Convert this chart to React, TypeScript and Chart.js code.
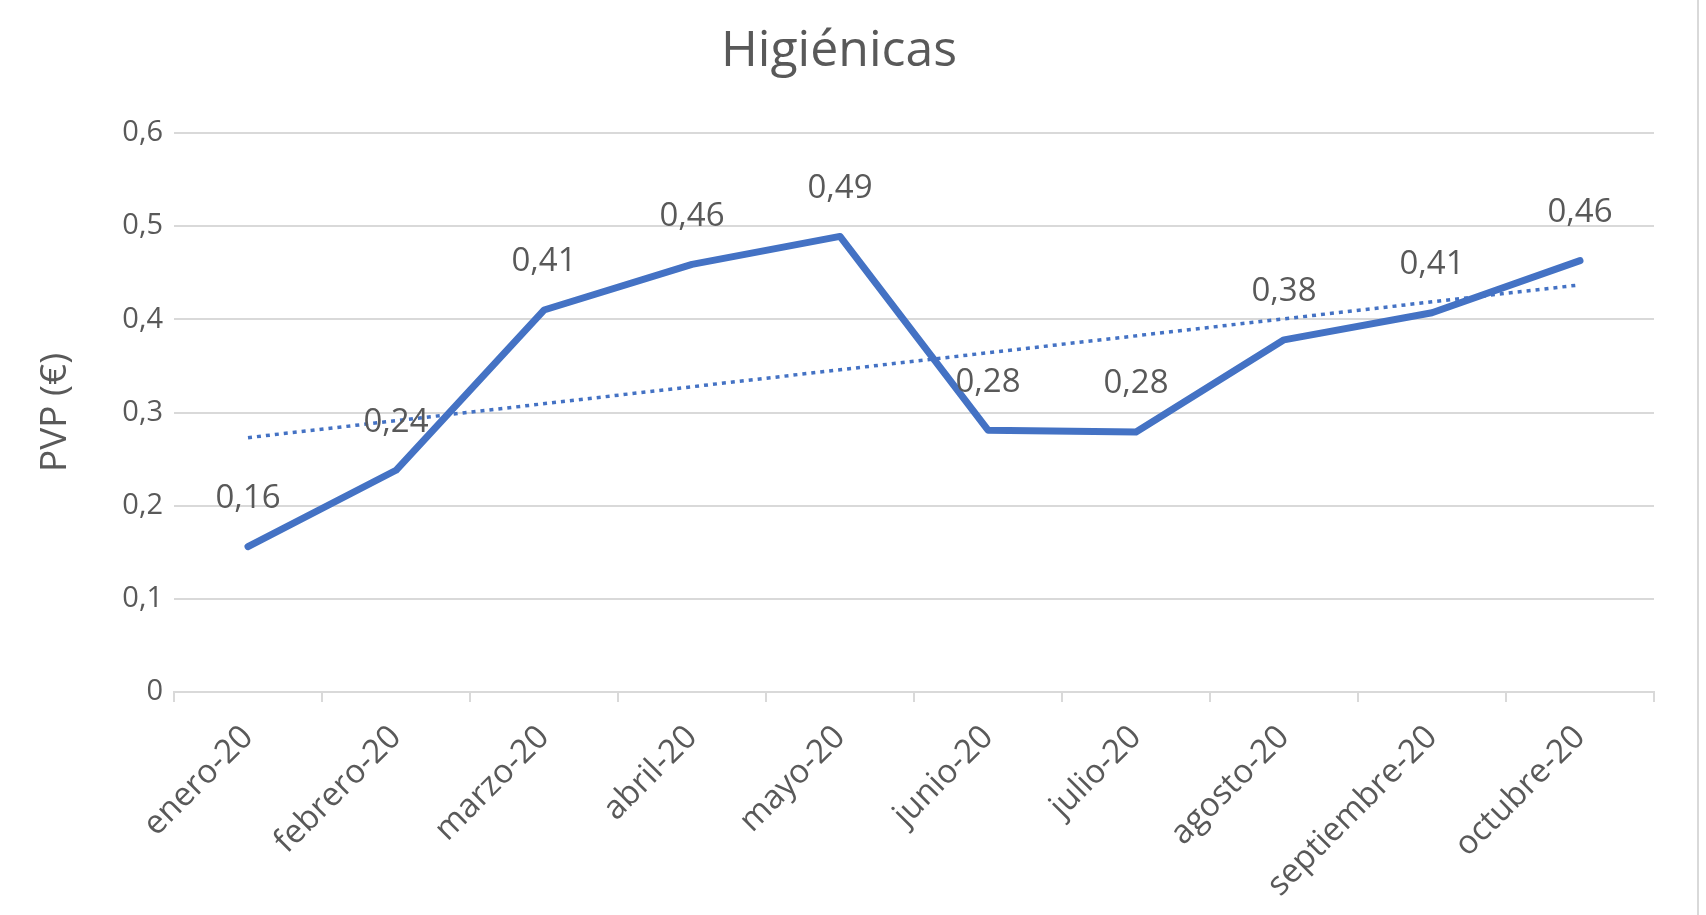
import React, { useEffect, useRef } from "react";
import { Chart, registerables } from "chart.js";

Chart.register(...registerables);

const chartTitle = "Higiénicas";
const yAxisTitle = "PVP (€)";
const categories = [
  "enero-20",
  "febrero-20",
  "marzo-20",
  "abril-20",
  "mayo-20",
  "junio-20",
  "julio-20",
  "agosto-20",
  "septiembre-20",
  "octubre-20",
];
const pvpValues = [0.156, 0.238, 0.41, 0.459, 0.489, 0.281, 0.279, 0.378, 0.407, 0.463];
// Linear trendline (start and end points)
const trendValues = [0.273, null, null, null, null, null, null, null, null, 0.437];
const yMin = 0;
const yMax = 0.6;
const yStep = 0.1;

const FONT = '"Open Sans", "DejaVu Sans", sans-serif';
const TEXT = "#595959";
const GRID = "#d9d9d9";
const BLUE = "#4472C4";

const fmt = (v: number, digits: number) =>
  v === 0 ? "0" : v.toFixed(digits).replace(".", ",");

const dataLabelPlugin = {
  id: "dataLabels",
  afterDatasetsDraw(chart: any) {
    const meta = chart.getDatasetMeta(0);
    const ctx = chart.ctx;
    ctx.save();
    ctx.font = `33px ${FONT}`;
    ctx.fillStyle = TEXT;
    ctx.textAlign = "center";
    ctx.textBaseline = "middle";
    meta.data.forEach((pt: any, i: number) => {
      ctx.fillText(fmt(pvpValues[i], 2), pt.x, pt.y - 48);
    });
    ctx.restore();
  },
};

export default function App() {
  const canvasRef = useRef<HTMLCanvasElement | null>(null);

  useEffect(() => {
    if (!canvasRef.current) return;
    const chart = new Chart(canvasRef.current, {
      type: "line",
      data: {
        labels: categories,
        datasets: [
          {
            label: "PVP",
            data: pvpValues,
            borderColor: BLUE,
            backgroundColor: BLUE,
            borderWidth: 7,
            pointRadius: 0,
            tension: 0,
            borderJoinStyle: "round",
            borderCapStyle: "round",
          },
          {
            label: "Tendencia",
            data: trendValues,
            borderColor: BLUE,
            borderWidth: 3.5,
            borderDash: [4, 5],
            pointRadius: 0,
            spanGaps: true,
            tension: 0,
          },
        ],
      },
      options: {
        animation: false,
        responsive: true,
        maintainAspectRatio: false,
        layout: { padding: { left: 24, right: 43, top: 0, bottom: 0 } },
        plugins: {
          legend: { display: false },
          tooltip: { enabled: false },
          title: {
            display: true,
            text: chartTitle,
            color: TEXT,
            font: { family: FONT, size: 50, weight: "normal" },
            padding: { top: 22, bottom: 51 },
          },
        },
        scales: {
          x: {
            offset: true,
            grid: {
              offset: true,
              drawOnChartArea: false,
              drawTicks: true,
              tickLength: 10,
              color: GRID,
              lineWidth: 2,
            },
            border: { display: true, color: GRID, width: 2 },
            ticks: {
              color: TEXT,
              font: { family: FONT, size: 33 },
              maxRotation: 45,
              minRotation: 45,
              autoSkip: false,
              padding: 16,
            },
            afterFit: (s: any) => {
              s.height = 223;
            },
          },
          y: {
            min: yMin,
            max: yMax,
            ticks: {
              stepSize: yStep,
              color: TEXT,
              font: { family: FONT, size: 29 },
              padding: 11,
              callback: (v: any) => fmt(Number(v), 1),
            },
            grid: { color: GRID, lineWidth: 2, drawTicks: false },
            border: { display: false },
            title: {
              display: true,
              text: yAxisTitle,
              color: TEXT,
              font: { family: FONT, size: 37 },
              padding: { top: 9, bottom: 0 },
            },
            afterFit: (s: any) => {
              s.width = 150;
            },
          },
        },
      },
      plugins: [dataLabelPlugin],
    });
    return () => chart.destroy();
  }, []);

  return (
    <div
      style={{
        position: "fixed",
        left: 0,
        top: 0,
        width: 1706,
        height: 915,
        background: "#ffffff",
      }}
    >
      <div
        style={{
          position: "absolute",
          left: 0,
          top: 0,
          width: 1697,
          height: 915,
          borderRight: "2px solid #d9d9d9",
        }}
      >
        <canvas ref={canvasRef} />
      </div>
    </div>
  );
}
